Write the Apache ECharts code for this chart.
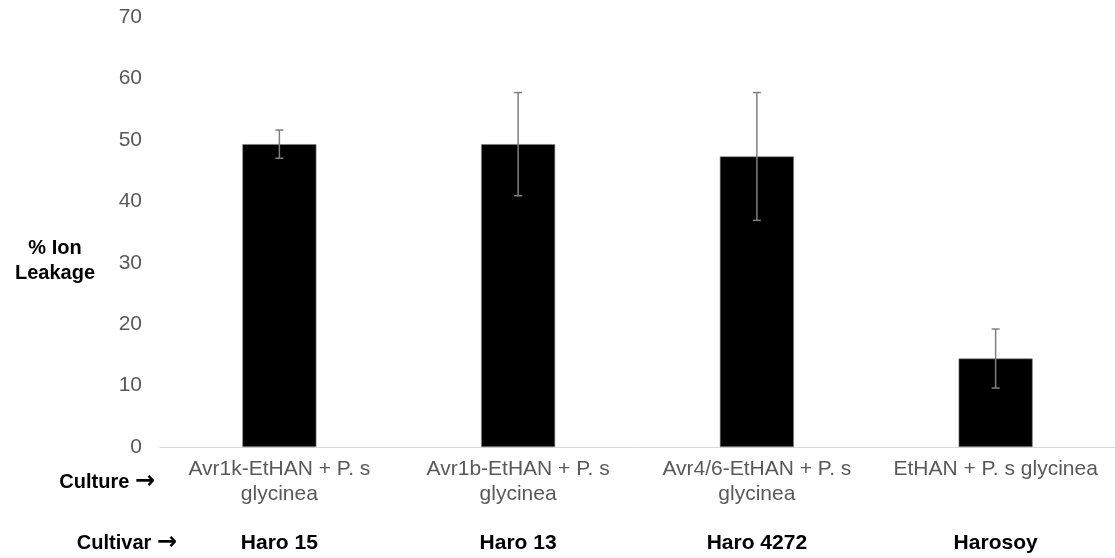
<!DOCTYPE html>
<html>
<head>
<meta charset="utf-8">
<script src="https://cdn.jsdelivr.net/npm/echarts@6/dist/echarts.min.js"></script>
<style>
  html, body { margin: 0; padding: 0; background: #fff; }
  #chart { width: 1115px; height: 558px; }
</style>
</head>
<body>
<div id="chart"></div>
<script>
// Culture inoculated on each cultivar
const cultures = [
  'Avr1k-EtHAN + P. s\nglycinea',
  'Avr1b-EtHAN + P. s\nglycinea',
  'Avr4/6-EtHAN + P. s\nglycinea',
  'EtHAN + P. s glycinea'
];
const cultivars = ['Haro 15', 'Haro 13', 'Haro 4272', 'Harosoy'];
// Mean % ion leakage and its error
const leakage = [49.3, 49.3, 47.3, 14.4];
const leakageErr = [2.3, 8.4, 10.4, 4.8];
const yTicks = { min: 0, max: 70, step: 10 };

const font = '"Liberation Sans", Arial, sans-serif';

// Row caption with a heavy arrow, e.g. "Culture →"
function rowCaption(x, y, label) {
  return {
    type: 'text', x: x, y: y,
    style: {
      text: '{t|' + label + ' }{a|\u2192}',
      align: 'right', verticalAlign: 'middle',
      rich: {
        t: { fill: '#000', font: 'bold 20px ' + font },
        a: { fill: '#000', font: 'bold 24px "DejaVu Sans", ' + font }
      }
    }
  };
}

const chart = echarts.init(document.getElementById('chart'));
chart.setOption({
  animation: false,
  grid: { left: 160, right: 0, top: 17, bottom: 111, containLabel: false },
  xAxis: [
    {
      type: 'category',
      data: cultures,
      axisLine: { lineStyle: { color: '#d9d9d9', width: 1 } },
      axisTick: { show: false },
      axisLabel: {
        interval: 0, hideOverlap: false,
        color: '#595959', fontFamily: font, fontSize: 21, lineHeight: 25, margin: 10
      }
    },
    {
      type: 'category',
      data: cultivars,
      position: 'bottom',
      offset: 76,
      axisLine: { show: false },
      axisTick: { show: false },
      axisLabel: {
        interval: 0, hideOverlap: false,
        color: '#000', fontFamily: font, fontSize: 21, fontWeight: 'bold',
        lineHeight: 25, margin: 8
      }
    }
  ],
  yAxis: {
    type: 'value',
    min: yTicks.min, max: yTicks.max, interval: yTicks.step,
    splitLine: { show: false },
    axisLine: { show: false },
    axisTick: { show: false },
    axisLabel: { color: '#595959', fontFamily: font, fontSize: 21, margin: 18 }
  },
  graphic: [
    {
      type: 'text', x: 55, y: 261,
      style: {
        text: '% Ion\nLeakage', fill: '#000', font: 'bold 20px ' + font,
        align: 'center', verticalAlign: 'middle', lineHeight: 25
      }
    },
    rowCaption(155, 482, 'Culture'),
    rowCaption(177, 543, 'Cultivar')
  ],
  series: [
    {
      type: 'bar',
      data: leakage,
      barWidth: '31%',
      itemStyle: { color: '#000', borderColor: '#7f7f7f', borderWidth: 0.6 }
    },
    {
      type: 'custom',
      data: leakage.map((v, i) => [i, v - leakageErr[i], v + leakageErr[i]]),
      z: 10,
      renderItem: function (params, api) {
        const lo = api.coord([api.value(0), api.value(1)]);
        const hi = api.coord([api.value(0), api.value(2)]);
        const half = 4;
        const style = { stroke: '#7f7f7f', lineWidth: 1.5 };
        return {
          type: 'group',
          children: [
            { type: 'line', shape: { x1: hi[0], y1: hi[1], x2: lo[0], y2: lo[1] }, style },
            { type: 'line', shape: { x1: hi[0] - half, y1: hi[1], x2: hi[0] + half, y2: hi[1] }, style },
            { type: 'line', shape: { x1: lo[0] - half, y1: lo[1], x2: lo[0] + half, y2: lo[1] }, style }
          ]
        };
      }
    }
  ]
});
</script>
</body>
</html>
